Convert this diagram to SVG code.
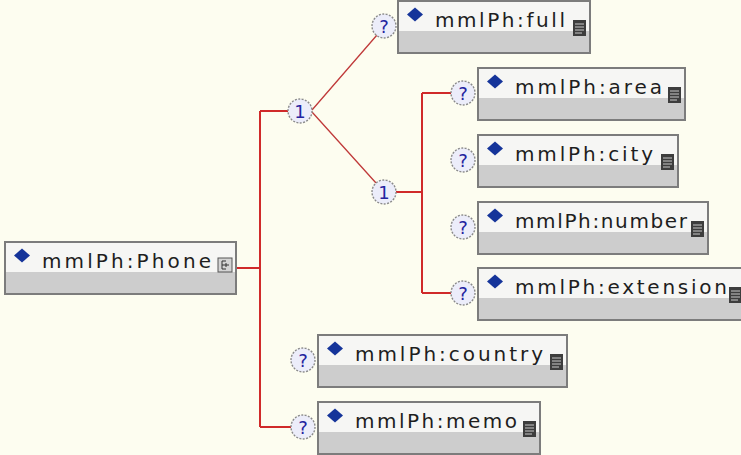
<svg xmlns="http://www.w3.org/2000/svg" xmlns:xlink="http://www.w3.org/1999/xlink" width="741" height="455" viewBox="0 0 741 455">
<defs>
<style>
.hd{fill:#f6f6f4}
.gy{fill:#cdcdcd}
.bd{fill:none;stroke:#7c7c7c;stroke-width:2}
.lbl{font-family:"DejaVu Sans","Liberation Sans",sans-serif;font-size:20px;fill:#1e1e1e}
.dia{fill:#15349a}
.conn{fill:none;stroke:#d02a2a;stroke-width:2}
.diag{fill:none;stroke:#c03a3a;stroke-width:1.3}
.oc circle{fill:#ecedfa;stroke:#8a8a8a;stroke-width:1.4;stroke-dasharray:2 1.4}
.oc text{font-family:"DejaVu Sans","Liberation Sans",sans-serif;font-size:18px;fill:#2424a0;text-anchor:middle}
</style>
<symbol id="doc" viewBox="0 0 13 16" width="13" height="16">
<rect x="0" y="0" width="13" height="16" fill="#3d3d3d"/>
<path d="M2 4H11M2 7H11M2 10H11M2 13H9" stroke="#c9c9c9" stroke-width="1"/>
</symbol>
<path id="dm" class="dia" d="M0 -7L8 0L0 7L-8 0Z"/>
</defs>
<rect x="0" y="0" width="741" height="455" fill="#fdfdf0"/>

<g id="connectors">
<path class="conn" d="M236 268H260M260 111V427M260 111H288M260 427H291M396 192H422M422 93V293M422 93H451M422 293H451"/>
<path class="diag" d="M312 110L377 35M312 112L376 183"/>
</g>

<g id="phone">
<rect class="hd" x="5" y="242" width="231" height="52"/>
<rect class="gy" x="6" y="272" width="229" height="21"/>
<rect class="bd" x="5" y="242" width="231" height="52"/>
<use xlink:href="#dm" x="22" y="255.5"/>
<text class="lbl" x="42" y="268" textLength="169" lengthAdjust="spacing">mmlPh:Phone</text>
<rect x="218" y="258" width="14" height="14" fill="#d4d4d4" stroke="#555" stroke-width="1"/>
<path d="M226 261H222V269H226M222 265H229M226 263V267" fill="none" stroke="#333" stroke-width="1"/>
</g>

<g id="choice1" class="oc"><circle cx="300" cy="111" r="12"/><text x="300" y="117.5">1</text></g>
<g id="choice2" class="oc"><circle cx="384" cy="192" r="12"/><text x="384" y="198.5">1</text></g>

<g id="full">
<rect class="hd" x="398" y="1" width="192" height="52"/>
<rect class="gy" x="399" y="31" width="190" height="21"/>
<rect class="bd" x="398" y="1" width="192" height="52"/>
<use xlink:href="#dm" x="415" y="14.5"/>
<text class="lbl" x="435" y="27" textLength="130" lengthAdjust="spacing">mmlPh:full</text>
<use xlink:href="#doc" x="573" y="20"/>
<g class="oc"><circle cx="384" cy="26" r="12"/><text x="384" y="32.5">?</text></g>
</g>

<g id="area">
<rect class="hd" x="478" y="68" width="207" height="52"/>
<rect class="gy" x="479" y="98" width="205" height="21"/>
<rect class="bd" x="478" y="68" width="207" height="52"/>
<use xlink:href="#dm" x="495" y="81.5"/>
<text class="lbl" x="515" y="94" textLength="147" lengthAdjust="spacing">mmlPh:area</text>
<use xlink:href="#doc" x="668" y="87"/>
<g class="oc"><circle cx="463" cy="93" r="12"/><text x="463" y="99.5">?</text></g>
</g>

<g id="city">
<rect class="hd" x="478" y="135" width="200" height="52"/>
<rect class="gy" x="479" y="165" width="198" height="21"/>
<rect class="bd" x="478" y="135" width="200" height="52"/>
<use xlink:href="#dm" x="495" y="148.5"/>
<text class="lbl" x="515" y="161" textLength="138" lengthAdjust="spacing">mmlPh:city</text>
<use xlink:href="#doc" x="661" y="154"/>
<g class="oc"><circle cx="463" cy="160" r="12"/><text x="463" y="166.5">?</text></g>
</g>

<g id="number">
<rect class="hd" x="478" y="202" width="230" height="52"/>
<rect class="gy" x="479" y="232" width="228" height="21"/>
<rect class="bd" x="478" y="202" width="230" height="52"/>
<use xlink:href="#dm" x="495" y="215.5"/>
<text class="lbl" x="515" y="228" textLength="172" lengthAdjust="spacing">mmlPh:number</text>
<use xlink:href="#doc" x="691" y="221"/>
<g class="oc"><circle cx="463" cy="227" r="12"/><text x="463" y="233.5">?</text></g>
</g>

<g id="extension">
<rect class="hd" x="478" y="268" width="272" height="52"/>
<rect class="gy" x="479" y="298" width="270" height="21"/>
<rect class="bd" x="478" y="268" width="272" height="52"/>
<use xlink:href="#dm" x="495" y="281.5"/>
<text class="lbl" x="515" y="294" textLength="212" lengthAdjust="spacing">mmlPh:extension</text>
<use xlink:href="#doc" x="729" y="287"/>
<g class="oc"><circle cx="463" cy="293" r="12"/><text x="463" y="299.5">?</text></g>
</g>

<g id="country">
<rect class="hd" x="318" y="335" width="249" height="52"/>
<rect class="gy" x="319" y="365" width="247" height="21"/>
<rect class="bd" x="318" y="335" width="249" height="52"/>
<use xlink:href="#dm" x="335" y="348.5"/>
<text class="lbl" x="355" y="361" textLength="188" lengthAdjust="spacing">mmlPh:country</text>
<use xlink:href="#doc" x="550" y="354"/>
<g class="oc"><circle cx="303" cy="360" r="12"/><text x="303" y="366.5">?</text></g>
</g>

<g id="memo">
<rect class="hd" x="318" y="402" width="222" height="52"/>
<rect class="gy" x="319" y="432" width="220" height="21"/>
<rect class="bd" x="318" y="402" width="222" height="52"/>
<use xlink:href="#dm" x="335" y="415.5"/>
<text class="lbl" x="355" y="428" textLength="162" lengthAdjust="spacing">mmlPh:memo</text>
<use xlink:href="#doc" x="523" y="421"/>
<g class="oc"><circle cx="303" cy="427" r="12"/><text x="303" y="433.5">?</text></g>
</g>
</svg>
